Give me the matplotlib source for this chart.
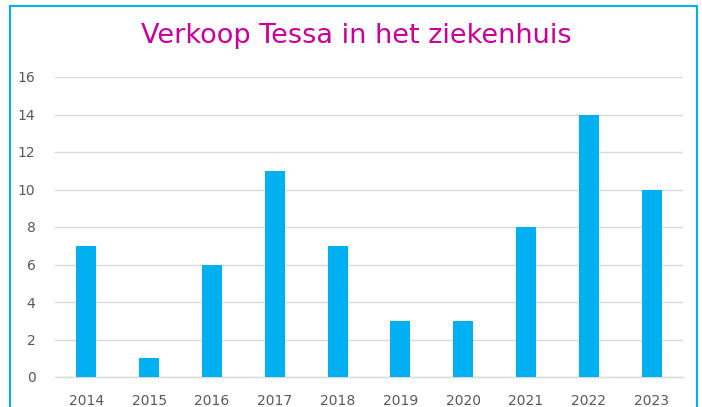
import matplotlib
matplotlib.use("Agg")
import matplotlib.pyplot as plt
from matplotlib.patches import Rectangle

years = ["2014", "2015", "2016", "2017", "2018", "2019", "2020", "2021", "2022", "2023"]
sales = [7, 1, 6, 11, 7, 3, 3, 8, 14, 10]
title = "Verkoop Tessa in het ziekenhuis"

W, H = 702, 407
fig = plt.figure(figsize=(W / 100, H / 100), dpi=100)
ax = fig.add_axes([55 / W, 1 - 377 / H, (683 - 55) / W, (377 - 77) / H])

bar_color = "#00B0F0"
x = range(len(years))
ax.bar(x, sales, width=0.32, color=bar_color, zorder=3)
ax.set_xlim(-0.5, len(years) - 0.5)
ax.set_ylim(0, 16)
ax.set_yticks(range(0, 17, 2))
ax.set_xticks(list(x))
ax.set_xticklabels(years)

for s in ["top", "right", "left"]:
    ax.spines[s].set_visible(False)
ax.spines["bottom"].set_color("#D9D9D9")
ax.spines["bottom"].set_linewidth(1)
ax.grid(axis="y", color="#D9D9D9", linewidth=1, zorder=0)
ax.tick_params(axis="both", length=0, labelsize=10, labelcolor="#595959")
ax.tick_params(axis="x", pad=12)
ax.tick_params(axis="y", pad=14)

fig.text(356.5 / W, 1 - 36 / H, title, ha="center", va="center",
         fontsize=19.5, color="#CC0099")

fig.patches.append(Rectangle((10 / W, -0.05), (697 - 10) / W, 1.05 - 6 / H,
                             transform=fig.transFigure, fill=False,
                             edgecolor=bar_color, linewidth=1.5))

fig.savefig("out.png", dpi=100)
